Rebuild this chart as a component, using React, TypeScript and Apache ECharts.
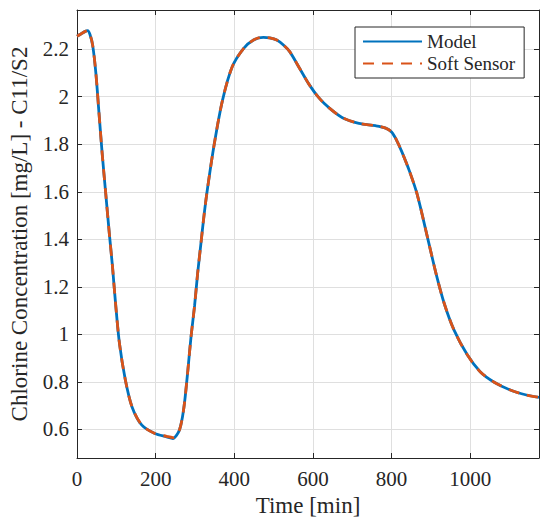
import React, { useEffect, useRef } from "react";
import * as echarts from "echarts";

const timeMin = [
  0, 10, 20, 27, 33, 40, 48, 56, 64, 73, 83, 90, 98, 108, 123, 140, 165, 198, 228, 244,
  253, 261, 268, 274, 282, 290, 299, 307, 315, 323, 332, 349, 370, 395, 424, 449, 474,
  490, 508, 525, 541, 566, 591, 616, 642, 675, 717, 759, 785, 800, 812, 826, 846, 865,
  893, 913, 934, 959, 993, 1026, 1060, 1102, 1143, 1175,
];
const modelValues = [
  2.255, 2.264, 2.274, 2.278, 2.262, 2.215, 2.099, 1.93, 1.762, 1.594, 1.41, 1.29, 1.132,
  0.962, 0.808, 0.695, 0.618, 0.583, 0.569, 0.562, 0.575, 0.6, 0.65, 0.72, 0.85, 0.99,
  1.12, 1.26, 1.38, 1.5, 1.615, 1.8, 1.985, 2.127, 2.204, 2.239, 2.25, 2.248, 2.239, 2.218,
  2.19, 2.12, 2.05, 1.994, 1.952, 1.912, 1.888, 1.878, 1.868, 1.852, 1.82, 1.769, 1.685,
  1.59, 1.397, 1.257, 1.13, 1.018, 0.913, 0.842, 0.8, 0.766, 0.745, 0.735,
];
const sensorValues = [
  2.255, 2.264, 2.274, 2.278, 2.262, 2.215, 2.099, 1.93, 1.762, 1.594, 1.41, 1.29, 1.132,
  0.962, 0.808, 0.695, 0.618, 0.583, 0.571, 0.566, 0.576, 0.6, 0.65, 0.72, 0.85, 0.99,
  1.12, 1.26, 1.38, 1.5, 1.615, 1.8, 1.985, 2.127, 2.204, 2.239, 2.25, 2.248, 2.239, 2.218,
  2.19, 2.12, 2.05, 1.994, 1.952, 1.912, 1.888, 1.878, 1.868, 1.852, 1.82, 1.769, 1.685,
  1.59, 1.397, 1.257, 1.13, 1.018, 0.913, 0.842, 0.8, 0.766, 0.745, 0.735,
];
const xTicks = [0, 200, 400, 600, 800, 1000];
const yTicks = [0.6, 0.8, 1, 1.2, 1.4, 1.6, 1.8, 2, 2.2];
const seriesNames = ["Model", "Soft Sensor"];

const FONT = "Liberation Serif";
const INK = "#262626";
const GRID = "#dfdfdf";

const mkLine = () => ({ show: true, onZero: false, lineStyle: { color: INK, width: 1 } });

export default function App() {
  const ref = useRef<HTMLDivElement>(null);
  useEffect(() => {
    if (!ref.current) return;
    const chart = echarts.init(ref.current, undefined, { renderer: "svg" });
    const model = timeMin.map((t, i) => [t, modelValues[i]]);
    const sensor = timeMin.map((t, i) => [t, sensorValues[i]]);
    const fmt = (v: number) => String(Math.round(v * 1000) / 1000);
    chart.setOption({
      animation: false,
      textStyle: { fontFamily: FONT, color: INK },
      grid: { left: 71, top: 10, right: 11, bottom: 72 },
      legend: {
        orient: "vertical",
        left: 355,
        top: 27,
        padding: [5, 9, 5, 7],
        itemGap: 3,
        itemWidth: 59,
        itemHeight: 14,
        borderColor: INK,
        borderWidth: 1,
        backgroundColor: "#ffffff",
        itemStyle: { opacity: 0 },
        textStyle: { fontSize: 19, fontFamily: FONT, color: INK },
        data: seriesNames,
      },
      xAxis: [
        {
          type: "value",
          min: 0,
          max: 1175,
          position: "bottom",
          axisLine: mkLine(),
          axisTick: { show: true, inside: true, length: 5, lineStyle: { color: INK }, customValues: xTicks },
          axisLabel: { customValues: xTicks, formatter: fmt, color: INK, fontSize: 21, fontFamily: FONT, margin: 10 },
          splitLine: { show: true, lineStyle: { color: GRID, width: 1 } },
          name: "Time [min]",
          nameLocation: "middle",
          nameGap: 36,
          nameTextStyle: { fontSize: 23, fontFamily: FONT, color: INK },
        },
        {
          type: "value",
          min: 0,
          max: 1175,
          position: "top",
          axisLine: mkLine(),
          axisTick: { show: true, inside: true, length: 5, lineStyle: { color: INK }, customValues: xTicks },
          axisLabel: { show: false },
          splitLine: { show: false },
        },
      ],
      yAxis: [
        {
          type: "value",
          min: 0.48,
          max: 2.365,
          position: "left",
          axisLine: mkLine(),
          axisTick: { show: true, inside: true, length: 5, lineStyle: { color: INK }, customValues: yTicks },
          axisLabel: { customValues: yTicks, formatter: fmt, color: INK, fontSize: 21, fontFamily: FONT, margin: 8 },
          splitLine: { show: true, lineStyle: { color: GRID, width: 1 } },
          name: "Chlorine Concentration [mg/L] - C11/S2",
          nameLocation: "middle",
          nameGap: 46,
          nameTextStyle: { fontSize: 23, fontFamily: FONT, color: INK },
        },
        {
          type: "value",
          min: 0.48,
          max: 2.365,
          position: "right",
          axisLine: mkLine(),
          axisTick: { show: true, inside: true, length: 5, lineStyle: { color: INK }, customValues: yTicks },
          axisLabel: { show: false },
          splitLine: { show: false },
        },
      ],
      series: [
        {
          type: "line",
          name: seriesNames[0],
          data: model,
          symbol: "none",
          smooth: 0.3,
          color: "#0072BD",
          lineStyle: { color: "#0072BD", width: 2.8 },
          z: 2,
        },
        {
          type: "line",
          name: seriesNames[1],
          data: sensor,
          symbol: "none",
          smooth: 0.3,
          color: "#D95319",
          lineStyle: { color: "#D95319", width: 2.8, type: [11, 8] },
          z: 3,
        },
      ],
    });
    return () => chart.dispose();
  }, []);
  return (
    <div style={{ margin: -8, position: "relative", background: "#ffffff" }}>
      <div ref={ref} style={{ width: 550, height: 530 }} />
    </div>
  );
}
